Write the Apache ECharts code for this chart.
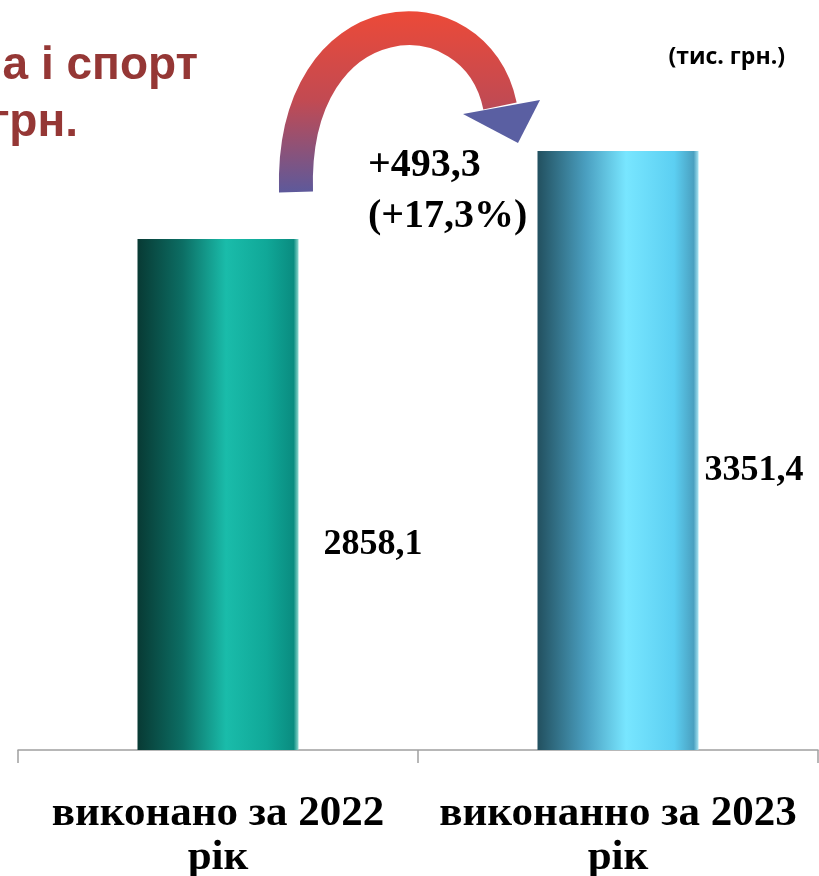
<!DOCTYPE html>
<html>
<head>
<meta charset="utf-8">
<script src="https://cdn.jsdelivr.net/npm/echarts@6/dist/echarts.min.js"></script>
<style>
  html, body { margin: 0; padding: 0; background: #fff; }
  #chart { width: 819px; height: 876px; }
</style>
</head>
<body>
<div id="chart"></div>
<script>
// дані
var categories = ['виконано за 2022\nрік', 'виконанно за 2023\nрік'];
var values = [2858.1, 3351.4];
var valueLabels = ['2858,1', '3351,4'];
var diffLabels = ['+493,3', '(+17,3%)'];

var barColors = [
  [['#083a34', 0], ['#0c6e64', 0.28], ['#1abcaa', 0.55], ['#10a898', 0.8], ['#0a8c80', 0.97], ['#8fd8cf', 1]],
  [['#22505f', 0], ['#4a9fc0', 0.3], ['#78e6ff', 0.55], ['#5ccff2', 0.85], ['#4aa0c0', 0.97], ['#a8e4f2', 1]]
];
// зсув підписів біля стовпчиків
var labelPos = [{ distance: 25, offset: [0, 50] }, { distance: 6, offset: [0, 20] }];

function grad(stops) {
  return new echarts.graphic.LinearGradient(0, 0, 1, 0, stops.map(function (s) {
    return { offset: s[1], color: s[0] };
  }));
}

var chart = echarts.init(document.getElementById('chart'));

var option = {
  animation: false,
  grid: { left: 18, right: 1, top: 35, bottom: 126, containLabel: false, outerBoundsMode: 'none' },
  xAxis: {
    type: 'category',
    data: categories,
    axisLine: { lineStyle: { color: '#a0a0a0', width: 1.5 } },
    axisTick: { show: true, interval: 0, length: 13, lineStyle: { color: '#a0a0a0', width: 1.5 } },
    axisLabel: {
      interval: 0,
      hideOverlap: false,
      color: '#000',
      fontFamily: 'Liberation Serif',
      fontWeight: 'bold',
      fontSize: 43,
      lineHeight: 44,
      margin: 42
    }
  },
  yAxis: { type: 'value', min: 0, max: 4000, show: false, splitLine: { show: false } },
  series: [{
    type: 'bar',
    barWidth: 161,
    data: values.map(function (v, i) {
      return {
        value: v,
        itemStyle: { color: grad(barColors[i]) },
        label: {
          show: true,
          position: 'right',
          distance: labelPos[i].distance,
          offset: labelPos[i].offset,
          formatter: valueLabels[i],
          color: '#000',
          fontFamily: 'Liberation Serif',
          fontWeight: 'bold',
          fontSize: 36
        }
      };
    })
  }],
  graphic: [
    { type: 'text', right: 621, top: 43, style: { text: 'а і спорт', fill: '#953735', font: 'bold 46px "Liberation Sans"' } },
    { type: 'text', right: 741, top: 100, style: { text: 'грн.', fill: '#953735', font: 'bold 46px "Liberation Sans"' } },
    { type: 'text', right: 34, top: 46, style: { text: '(тис. грн.)', fill: '#000', font: 'bold 23px "Open Sans"' } },
    {
      type: 'bezierCurve',
      shape: { x1: 296, y1: 192, cpx1: 290, cpy1: -5, cpx2: 476, cpy2: -12, x2: 500, y2: 106 },
      style: {
        fill: 'none',
        lineWidth: 34,
        stroke: new echarts.graphic.LinearGradient(0, 0, 0, 1, [
          { offset: 0, color: '#ec4a38' },
          { offset: 0.45, color: '#c24a52' },
          { offset: 1, color: '#4b5ca8' }
        ])
      }
    },
    {
      type: 'polygon',
      shape: { points: [[463, 114], [540, 100], [518, 143]] },
      style: { fill: '#5a5fa2' }
    },
    { type: 'text', left: 368, top: 146, style: { text: diffLabels[0], fill: '#000', font: 'bold 40px "Liberation Serif"' } },
    { type: 'text', left: 368, top: 197, style: { text: diffLabels[1], fill: '#000', font: 'bold 40px "Liberation Serif"' } }
  ]
};

chart.setOption(option);
</script>
</body>
</html>
